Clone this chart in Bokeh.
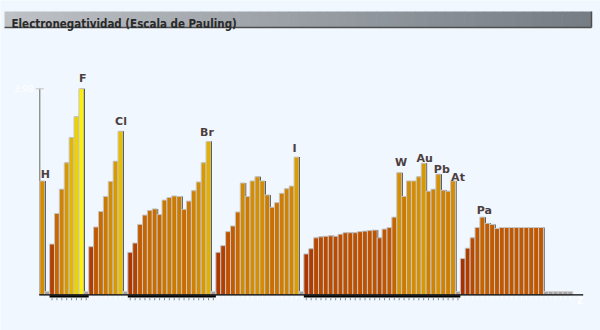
from bokeh.plotting import figure
from bokeh.models import ColumnDataSource, Range1d
from bokeh.embed import file_html
from bokeh.resources import INLINE
from bokeh.core.properties import value

# ---------------- data ----------------
title_text = "Electronegatividad (Escala de Pauling)"
symbols = ["H", "He", "Li", "Be", "B", "C", "N", "O", "F", "Ne",
           "Na", "Mg", "Al", "Si", "P", "S", "Cl", "Ar",
           "K", "Ca", "Sc", "Ti", "V", "Cr", "Mn", "Fe", "Co", "Ni", "Cu", "Zn",
           "Ga", "Ge", "As", "Se", "Br", "Kr",
           "Rb", "Sr", "Y", "Zr", "Nb", "Mo", "Tc", "Ru", "Rh", "Pd", "Ag", "Cd",
           "In", "Sn", "Sb", "Te", "I", "Xe",
           "Cs", "Ba", "La", "Ce", "Pr", "Nd", "Pm", "Sm", "Eu", "Gd", "Tb", "Dy",
           "Ho", "Er", "Tm", "Yb", "Lu", "Hf", "Ta", "W", "Re", "Os", "Ir", "Pt",
           "Au", "Hg", "Tl", "Pb", "Bi", "Po", "At", "Rn",
           "Fr", "Ra", "Ac", "Th", "Pa", "U", "Np", "Pu", "Am", "Cm", "Bk", "Cf",
           "Es", "Fm", "Md", "No", "Lr", "Rf", "Db", "Sg", "Bh", "Hs", "Mt"]
electronegativity = [
    2.20, None,
    0.98, 1.57, 2.04, 2.55, 3.04, 3.44, 3.98, None,
    0.93, 1.31, 1.61, 1.90, 2.19, 2.58, 3.16, None,
    0.82, 1.00, 1.36, 1.54, 1.63, 1.66, 1.55, 1.83, 1.88, 1.91, 1.90, 1.65,
    1.81, 2.01, 2.18, 2.55, 2.96, None,
    0.82, 0.95, 1.22, 1.33, 1.60, 2.16, 1.90, 2.20, 2.28, 2.20, 1.93, 1.69,
    1.78, 1.96, 2.05, 2.10, 2.66, None,
    0.79, 0.89, 1.10, 1.12, 1.13, 1.14, 1.13, 1.17, 1.20, 1.20, 1.20, 1.22,
    1.23, 1.24, 1.25, 1.10, 1.27, 1.30, 1.50, 2.36, 1.90, 2.20, 2.20, 2.28,
    2.54, 2.00, 2.04, 2.33, 2.02, 2.00, 2.20, None,
    0.70, 0.90, 1.10, 1.30, 1.50, 1.38, 1.36, 1.28, 1.30, 1.30, 1.30, 1.30,
    1.30, 1.30, 1.30, 1.30, 1.30, None, None, None, None, None, None]
labelled = ["H", "F", "Cl", "Br", "I", "W", "Au", "Pb", "At", "Pa"]
period_first = [1, 3, 11, 19, 37, 55, 87]
period_last = [2, 10, 18, 36, 54, 86, 109]
y_max_tick = 3.98
y_tick_label = "3.98"
x_axis_name = "Z"

# ---------------- styles ----------------
BG = "#f0f7fe"
W, H = 600, 330
FIRST_EDGE_PX = 39.3   # page column of the first slot's left edge
BASE_PX = 294.3        # page row of the zero line
AXIS_END_PX = 582.7    # page column where the base line stops
PX_X = 4.89            # pixels per element slot
PX_Y = 51.76           # pixels per Pauling unit
label_dx = {"H": 3, "F": 1.5, "Cl": 0.5, "Br": -1.5, "I": -2, "W": 1.8,
            "Au": 1, "Pb": 3.5, "At": 5, "Pa": 2}
label_gap = {"H": 6, "F": 10, "Cl": 9.7, "Br": 9.4, "I": 9, "W": 9.8,
             "Au": 4.5, "Pb": 4.4, "At": 3, "Pa": 6.7}
anchors = [(0.70, (168, 48, 0)), (1.00, (180, 66, 0)), (1.30, (193, 88, 0)),
           (1.60, (200, 106, 0)), (1.90, (205, 122, 0)), (2.20, (212, 140, 4)),
           (2.55, (216, 152, 0)), (3.00, (226, 178, 0)), (3.20, (232, 194, 0)),
           (3.45, (238, 210, 0)), (3.98, (255, 240, 0))]


def colour(v):
    if v <= anchors[0][0]:
        c = anchors[0][1]
    elif v >= anchors[-1][0]:
        c = anchors[-1][1]
    else:
        for (a, ca), (b, cb) in zip(anchors[:-1], anchors[1:]):
            if a <= v <= b:
                t = (v - a) / (b - a)
                c = tuple(int(round(ca[i] + t * (cb[i] - ca[i]))) for i in range(3))
                break
    return "#%02x%02x%02x" % c


z_all = list(range(1, len(symbols) + 1))
bars = {"x": [], "top": [], "color": [], "sym": []}
stubs = {"x": []}
for z, s, v in zip(z_all, symbols, electronegativity):
    if v is None:
        stubs["x"].append(z)
    else:
        bars["x"].append(z)
        bars["top"].append(v)
        bars["color"].append(colour(v))
        bars["sym"].append(s)
bar_src = ColumnDataSource(bars)

# ---------------- figure (frame = whole canvas) ----------------
first_edge = z_all[0] - 0.5
x0 = first_edge - FIRST_EDGE_PX / PX_X
x1 = x0 + W / PX_X
y1 = BASE_PX / PX_Y
y0 = -(H - BASE_PX) / PX_Y


def px_x(px):
    return x0 + px / PX_X


def px_y(py):
    return (BASE_PX - py) / PX_Y


p = figure(width=W, height=H, x_range=Range1d(x0, x1), y_range=Range1d(y0, y1),
           output_backend="svg", toolbar_location=None, x_axis_type=None, y_axis_type=None,
           min_border=0, min_border_left=0, min_border_right=0, min_border_top=0,
           min_border_bottom=0,
           background_fill_color=BG, border_fill_color=BG, outline_line_color=None)

# title bar
n = 60
bl, br, bt, bb = 4, 591, 11, 27
c0, c1 = (190, 194, 198), (118, 125, 133)
lefts, rights, cols = [], [], []
for i in range(n):
    f = i / (n - 1)
    cols.append("#%02x%02x%02x" % tuple(int(c0[k] + f * (c1[k] - c0[k])) for k in range(3)))
    lefts.append(px_x(bl + (br - bl) * i / n))
    rights.append(px_x(min(bl + (br - bl) * (i + 1) / n + 0.6, br)))
p.quad(left=lefts, right=rights, top=px_y(bt), bottom=px_y(bb), fill_color=cols, line_color=None)
p.segment(x0=[px_x(bl), px_x(br)], y0=[px_y(bb), px_y(bt)], x1=[px_x(br), px_x(br)],
          y1=[px_y(bb), px_y(bb)], line_color="#4e4e4e", line_width=1.5)
p.text(x=[px_x(11)], y=[px_y(23.3)], text=[title_text], text_font=value("DejaVu Sans Condensed"),
       text_font_style="bold", text_font_size="11.5px", text_color="#2a2a2a",
       text_baseline="alphabetic")

# y axis (line, one tick, white label)
p.segment(x0=[first_edge], y0=[0], x1=[first_edge], y1=[y_max_tick],
          line_color="#666666", line_width=1)
p.segment(x0=[first_edge - 4 / PX_X], y0=[y_max_tick], x1=[first_edge + 4 / PX_X],
          y1=[y_max_tick], line_color="#c4c4c4", line_width=1)
p.text(x=[first_edge - 6 / PX_X], y=[y_max_tick], text=[y_tick_label], text_color="white",
       text_font=value("DejaVu Sans"), text_font_size="9px", text_align="right",
       text_baseline="middle")

# bottom bands for even periods and ticks
band_l, band_r = [], []
tick_dark, tick_light = [], []
for k, (a, b) in enumerate(zip(period_first, period_last)):
    zs = list(range(a, b + 1))
    if k % 2 == 1:
        band_l.append(a - 0.5)
        band_r.append(b + 0.5)
        tick_dark += zs
    else:
        tick_light += zs
p.quad(left=band_l, right=band_r, top=0, bottom=-2.8 / PX_Y, fill_color="black", line_color=None)
p.segment(x0=tick_dark, x1=tick_dark, y0=[-2.8 / PX_Y] * len(tick_dark),
          y1=[-5.5 / PX_Y] * len(tick_dark), line_color="#8a8a8a", line_width=1)
p.segment(x0=tick_light, x1=tick_light, y0=[-0.8 / PX_Y] * len(tick_light),
          y1=[-4.8 / PX_Y] * len(tick_light), line_color="white", line_width=1)

# shadows and bars
shadow_src = ColumnDataSource({"x": [x + 1.0 / PX_X for x in bars["x"]], "top": bars["top"]})
p.vbar(x="x", top="top", bottom=0, width=1, source=shadow_src, fill_color="black", line_color=None)
p.vbar(x="x", top="top", bottom=0, width=1, source=bar_src, fill_color="color",
       line_color="#c6c6c6", line_width=1)
p.vbar(x=stubs["x"], top=3.2 / PX_Y, bottom=0, width=1, fill_color="#a2a2a2",
       line_color="#cfcfcf", line_width=1)

# base line
p.segment(x0=[first_edge - 0.6 / PX_X], y0=[0], x1=[px_x(AXIS_END_PX)], y1=[0],
          line_color="black", line_width=1.2)

# element labels
lab = {"x": [], "y": [], "text": [], "dx": [], "dy": []}
for z, s, v in zip(z_all, symbols, electronegativity):
    if s in labelled:
        lab["x"].append(z)
        lab["y"].append(v)
        lab["text"].append(s)
        lab["dx"].append(label_dx[s])
        lab["dy"].append(-label_gap[s])
p.text(x="x", y="y", text="text", x_offset="dx", y_offset="dy", source=ColumnDataSource(lab),
       text_font=value("DejaVu Sans"), text_font_style="bold", text_font_size="11px",
       text_color="#4d3f3f", text_align="center", text_baseline="alphabetic")

p.text(x=[px_x(AXIS_END_PX) - 0.6], y=[-7 / PX_Y], text=[x_axis_name], text_color="white",
       text_font=value("DejaVu Sans"), text_font_style="bold", text_font_size="8px",
       text_align="center", text_baseline="alphabetic")

open("out.html", "w").write(file_html(p, INLINE))
